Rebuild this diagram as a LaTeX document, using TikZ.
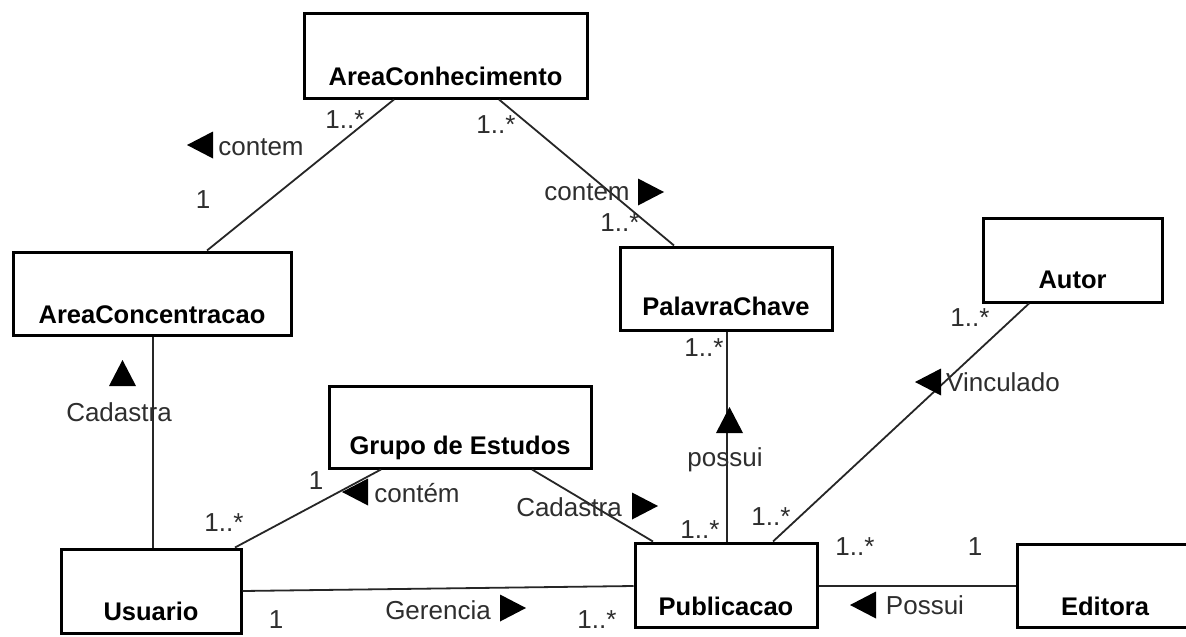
\documentclass[tikz,border=0pt]{standalone}
\usepackage{fontspec}
\setmainfont{Liberation Sans}
\begin{document}
\begin{tikzpicture}[x=1pt,y=-1pt,
  cls/.style={draw=black,line width=3pt,rectangle,inner sep=0pt},
  clsname/.style={font=\fontsize{25.5}{30}\bfseries\selectfont,inner sep=0pt},
  lbl/.style={font=\fontsize{26}{30}\selectfont,text=black!82,inner sep=0pt},
  assoc/.style={draw=black!85,line width=1.8pt},
  tril/.pic={\fill[black] (-13,0) -- (13,-13.5) -- (13,13.5) -- cycle;},
  trir/.pic={\fill[black] (13,0) -- (-13,-13.5) -- (-13,13.5) -- cycle;},
  triu/.pic={\fill[black] (0,-13) -- (-13.5,13) -- (13.5,13) -- cycle;}]
\useasboundingbox (0,0) rectangle (1186,637);
\fill[white] (0,0) rectangle (1186,637);
\clip (0,0) rectangle (1186,637);

% classes
\node[cls,minimum width=283pt,minimum height=85pt] (AC) at (445.5,55.5) {};
\node[cls,minimum width=278pt,minimum height=83pt] (ACo) at (152,293.5) {};
\node[cls,minimum width=262pt,minimum height=82pt] (GE) at (460,427) {};
\node[cls,minimum width=180pt,minimum height=84pt] (US) at (151,591) {};
\node[cls,minimum width=212pt,minimum height=83pt] (PC) at (726,288.5) {};
\node[cls,minimum width=179pt,minimum height=84pt] (AU) at (1072.5,260) {};
\node[cls,minimum width=182pt,minimum height=84pt] (PU) at (726,585) {};
\node[cls,minimum width=176pt,minimum height=83pt] (ED) at (1105,585.5) {};

% class names
\node[clsname] (ACt) at ([yshift=23pt]AC.south) {AreaConhecimento};
\node[clsname] (ACot) at ([yshift=22pt]ACo.south) {AreaConcentracao};
\node[clsname] (GEt) at ([yshift=22pt]GE.south) {Grupo de Estudos};
\node[clsname] (USt) at ([yshift=23pt]US.south) {Usuario};
\node[clsname] (PCt) at ([yshift=25pt]PC.south) {PalavraChave};
\node[clsname] (AUt) at ([yshift=24pt]AU.south) {Autor};
\node[clsname] (PUt) at ([yshift=22pt]PU.south) {Publicacao};
\node[clsname] (EDt) at ([yshift=22pt]ED.south) {Editora};

% associations
\draw[assoc] (394,0 |- AC.south) -- (207,0 |- ACo.north);
\draw[assoc] (499,0 |- AC.south) -- (674,0 |- PC.north);
\draw[assoc] (153,0 |- ACo.south) -- (153,0 |- US.north);
\draw[assoc] (235,0 |- US.north) -- (381,0 |- GE.south);
\draw[assoc] (532,0 |- GE.south) -- (653,0 |- PU.north);
\draw[assoc] (727,0 |- PC.south) -- (727,0 |- PU.north);
\draw[assoc] (1029,0 |- AU.south) -- (773,0 |- PU.north);
\draw[assoc] (US.east |- 0,591) -- (PU.west |- 0,586);
\draw[assoc] (PU.east |- 0,586) -- (ED.west |- 0,586);

% AreaConhecimento -- AreaConcentracao
\node[lbl] (m1) at (345,120) {1..*};
\node[lbl] (m2) at (203,200) {1};
\pic at (200,145) {tril};
\node[lbl] (n1) at (261,147) {contem};

% AreaConhecimento -- PalavraChave
\node[lbl] (m3) at (496,125) {1..*};
\node[lbl] (m4) at (620,223) {1..*};
\node[lbl] (n2) at (587,192) {contem};
\pic at (651,192) {trir};

% Autor -- Publicacao
\node[lbl] (m5) at (970,318) {1..*};
\node[lbl] (m6) at (771,517) {1..*};
\pic at (928,382) {tril};
\node[lbl] (n3) at (1003,382) {Vinculado};

% PalavraChave -- Publicacao
\node[lbl] (m7) at (704,348) {1..*};
\node[lbl] (m8) at (700,530) {1..*};
\pic at (729.5,420) {triu};
\node[lbl] (n4) at (725,460) {possui};

% Grupo de Estudos -- Publicacao
\node[lbl] (n5) at (569,507) {Cadastra};
\pic at (645,506) {trir};

% Publicacao -- Editora
\node[lbl] (m9) at (855,547) {1..*};
\node[lbl] (m10) at (975,547) {1};
\pic at (863,605) {tril};
\node[lbl] (n6) at (925,605) {Possui};

% Usuario -- Publicacao
\node[lbl] (m11) at (276,620) {1};
\node[lbl] (m12) at (597,620) {1..*};
\node[lbl] (n7) at (438,610) {Gerencia};
\pic at (513,608) {trir};

% Usuario -- Grupo de Estudos
\node[lbl] (m13) at (224,523) {1..*};
\node[lbl] (m14) at (316,481) {1};
\pic at (355,492) {tril};
\node[lbl] (n8) at (417,493) {contém};

% Usuario -- AreaConcentracao
\pic at (122.5,373) {triu};
\node[lbl] (n9) at (119,412) {Cadastra};
\end{tikzpicture}
\end{document}
